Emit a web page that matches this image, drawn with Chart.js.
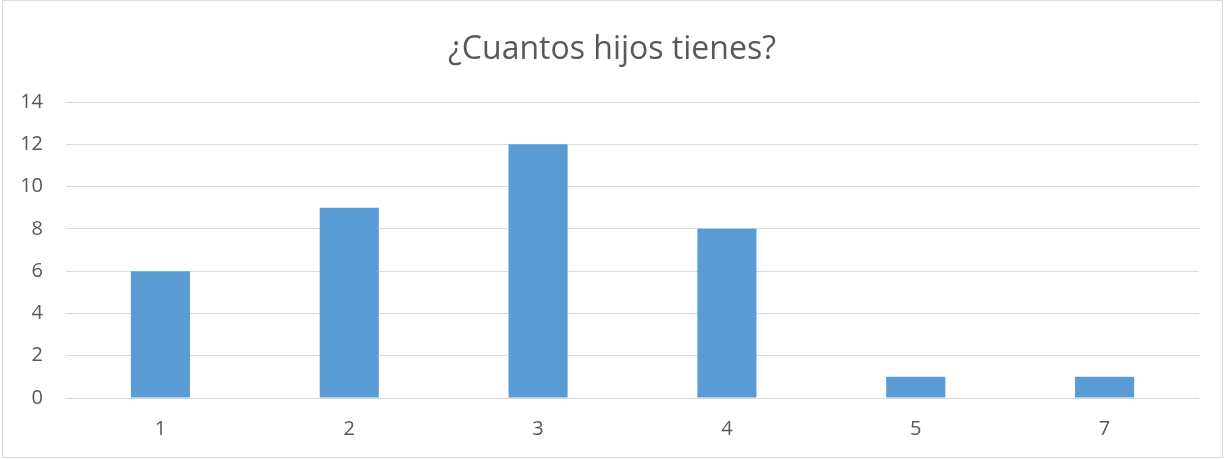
<!DOCTYPE html>
<html><head><meta charset="utf-8">
<script src="https://cdn.jsdelivr.net/npm/chart.js@4"></script>
<style>
html,body{margin:0;padding:0;background:#fff;}
#wrap{position:absolute;left:0;top:0;width:1229px;height:459px;}
#frame{position:absolute;left:2px;top:0px;width:1219px;height:456px;border:1px solid #d9d9d9;pointer-events:none;}
canvas{position:absolute;left:0;top:0;}
</style></head>
<body>
<div id="wrap"><canvas id="c" width="1229" height="459"></canvas><div id="frame"></div></div>
<script>
const titleText = "¿Cuantos hijos tienes?";
const categories = ["1","2","3","4","5","7"];
const values = [6,9,12,8,1,1];
const yMin = 0, yMax = 14, yStep = 2;

const FONT = "'Open Sans', 'Liberation Sans', Arial, sans-serif";
new Chart(document.getElementById('c'), {
  type: 'bar',
  data: { labels: categories, datasets: [{ data: values, backgroundColor: '#5B9BD5', borderWidth: 0, barPercentage: 1, categoryPercentage: 0.313 }] },
  options: {
    responsive: false, animation: false,
    layout: { padding: { left: 0, right: 5, top: 0, bottom: 0 } },
    plugins: {
      legend: { display: false }, tooltip: { enabled: false },
      title: { display: true, text: titleText, color: '#595959', font: { family: FONT, size: 32, weight: 'normal', lineHeight: 1.2 }, padding: { top: 31, bottom: 32.6 } }
    },
    scales: {
      x: {
        grid: { display: false, drawTicks: false },
        border: { display: false },
        ticks: { color: '#595959', font: { family: FONT, size: 20 }, padding: 19 },
        afterFit: s => { s.height = 61; }
      },
      y: {
        min: yMin, max: yMax,
        grid: { color: '#d9d9d9', lineWidth: 1, drawTicks: false },
        border: { display: false },
        ticks: { stepSize: yStep, color: '#595959', font: { family: FONT, size: 20 }, padding: 23 },
        afterFit: s => { s.width = 66; }
      },
      yRight: {
        position: 'right', display: true,
        grid: { display: false, drawTicks: false },
        border: { display: false },
        ticks: { display: false },
        afterFit: s => { s.width = 25; }
      }
    }
  }
});
</script>
</body></html>
